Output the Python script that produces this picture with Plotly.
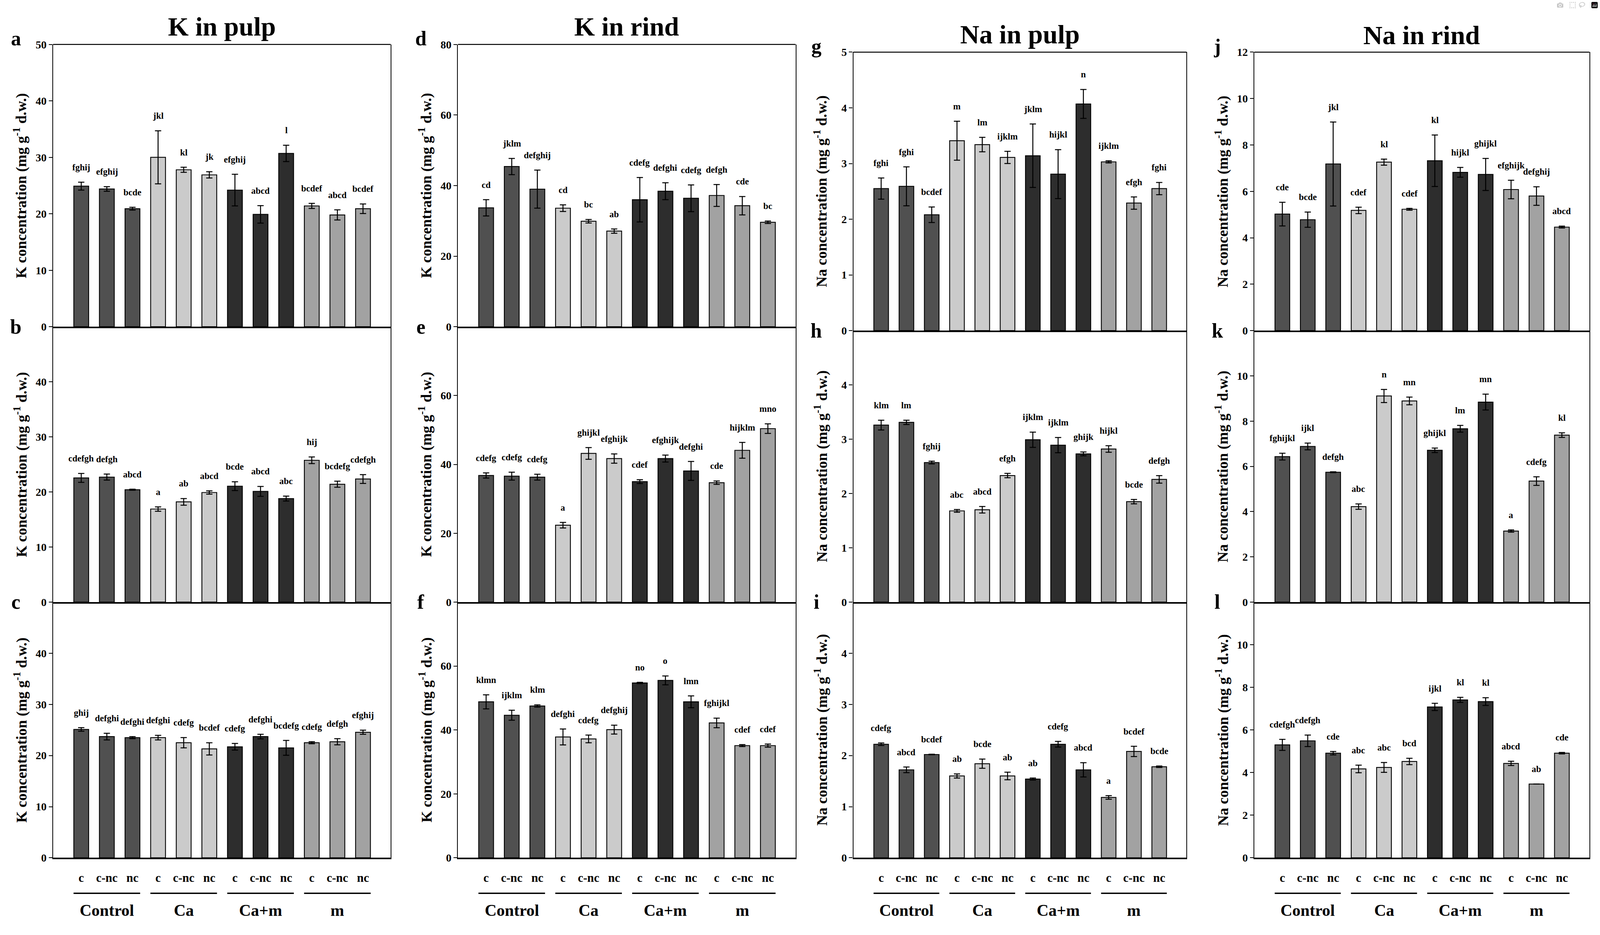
import plotly.graph_objects as go

REF_W, REF_H = 5398, 2393          # reference picture size (layout geometry measured in it)
FIG_W, FIG_H = 4096, 2393          # page size; resized to the real viewport by the script below
FONT = "Liberation Serif"

# ---------------- data ----------------
groups = ["Control", "Ca", "Ca+m", "m"]
subgroups = ["c", "c-nc", "nc"] * 4
positions = list(range(12))

col_titles = ["K in pulp", "K in rind", "Na in pulp", "Na in rind"]
y_titles = ["K concentration (mg g<sup>-1</sup> d.w.)",
            "K concentration (mg g<sup>-1</sup> d.w.)",
            "Na concentration (mg g<sup>-1</sup> d.w.)",
            "Na concentration (mg g<sup>-1</sup> d.w.)"]
y_max = [50, 80, 5, 12]
y_step = [10, 20, 1, 2]
panel_letters = ["a", "b", "c", "d", "e", "f", "g", "h", "i", "j", "k", "l"]

k_pulp_a = [24.9, 24.4, 20.9, 30.0, 27.8, 26.9, 24.2, 19.9, 30.7, 21.4, 19.8, 20.9]
k_pulp_a_err = [0.7, 0.4, 0.25, 4.7, 0.45, 0.55, 2.8, 1.55, 1.45, 0.45, 0.9, 0.85]
k_pulp_a_sig = ["fghij", "efghij", "bcde", "jkl", "kl", "jk", "efghij", "abcd", "l", "bcdef", "abcd", "bcdef"]

k_pulp_b = [22.55, 22.7, 20.4, 16.9, 18.2, 19.9, 21.05, 20.1, 18.8, 25.75, 21.4, 22.35]
k_pulp_b_err = [0.8, 0.55, 0.1, 0.4, 0.6, 0.3, 0.8, 0.9, 0.45, 0.6, 0.55, 0.8]
k_pulp_b_sig = ["cdefgh", "defgh", "abcd", "a", "ab", "abcd", "bcde", "abcd", "abc", "hij", "bcdefg", "cdefgh"]

k_pulp_c = [25.1, 23.7, 23.5, 23.5, 22.5, 21.3, 21.7, 23.7, 21.5, 22.5, 22.7, 24.55]
k_pulp_c_err = [0.35, 0.65, 0.2, 0.45, 1.0, 1.2, 0.65, 0.45, 1.45, 0.2, 0.6, 0.4]
k_pulp_c_sig = ["ghij", "defghi", "defghi", "defghi", "cdefg", "bcdef", "cdefg", "defghi", "bcdefg", "cdefg", "defgh", "efghij"]

k_rind_d = [33.7, 45.4, 39.0, 33.6, 29.9, 27.1, 36.0, 38.4, 36.4, 37.2, 34.3, 29.6]
k_rind_d_err = [2.3, 2.3, 5.4, 0.95, 0.5, 0.6, 6.3, 2.4, 3.8, 3.1, 2.6, 0.35]
k_rind_d_sig = ["cd", "jklm", "defghij", "cd", "bc", "ab", "cdefg", "defghi", "cdefg", "defgh", "cde", "bc"]

k_rind_e = [36.8, 36.6, 36.3, 22.35, 43.2, 41.7, 35.0, 41.7, 38.1, 34.7, 44.1, 50.4]
k_rind_e_err = [0.75, 1.15, 0.85, 0.8, 1.7, 1.35, 0.55, 1.0, 2.75, 0.5, 2.3, 1.4]
k_rind_e_sig = ["cdefg", "cdefg", "cdefg", "a", "ghijkl", "efghijk", "cdef", "efghijk", "defghi", "cde", "hijklm", "mno"]

k_rind_f = [48.8, 44.6, 47.5, 37.8, 37.2, 40.1, 54.7, 55.5, 48.8, 42.2, 35.1, 35.1]
k_rind_f_err = [2.2, 1.55, 0.35, 2.5, 1.2, 1.4, 0.2, 1.4, 1.85, 1.5, 0.3, 0.5]
k_rind_f_sig = ["klmn", "ijklm", "klm", "defghi", "cdefg", "defghij", "no", "o", "lmn", "fghijkl", "cdef", "cdef"]

na_pulp_g = [2.55, 2.59, 2.08, 3.41, 3.34, 3.11, 3.14, 2.81, 4.07, 3.03, 2.29, 2.55]
na_pulp_g_err = [0.19, 0.35, 0.14, 0.35, 0.13, 0.11, 0.57, 0.44, 0.26, 0.02, 0.11, 0.11]
na_pulp_g_sig = ["fghi", "fghi", "bcdef", "m", "lm", "ijklm", "jklm", "hijkl", "n", "ijklm", "efgh", "fghi"]

na_pulp_h = [3.26, 3.31, 2.57, 1.68, 1.70, 2.33, 2.99, 2.89, 2.73, 2.82, 1.85, 2.26]
na_pulp_h_err = [0.09, 0.04, 0.025, 0.025, 0.06, 0.04, 0.14, 0.14, 0.035, 0.06, 0.04, 0.07]
na_pulp_h_sig = ["klm", "lm", "fghij", "abc", "abcd", "efgh", "ijklm", "ijklm", "ghijk", "hijkl", "bcde", "defgh"]

na_pulp_i = [2.22, 1.72, 2.02, 1.60, 1.84, 1.60, 1.54, 2.22, 1.72, 1.18, 2.08, 1.78]
na_pulp_i_err = [0.025, 0.055, 0.005, 0.04, 0.09, 0.075, 0.02, 0.055, 0.14, 0.035, 0.1, 0.015]
na_pulp_i_sig = ["cdefg", "abcd", "bcdef", "ab", "bcde", "ab", "ab", "cdefg", "abcd", "a", "bcdef", "bcde"]

na_rind_j = [5.02, 4.78, 7.18, 5.18, 7.26, 5.23, 7.32, 6.82, 6.73, 6.08, 5.80, 4.46]
na_rind_j_err = [0.51, 0.33, 1.81, 0.14, 0.13, 0.04, 1.11, 0.21, 0.69, 0.4, 0.4, 0.04]
na_rind_j_sig = ["cde", "bcde", "jkl", "cdef", "kl", "cdef", "kl", "hijkl", "ghijkl", "efghijk", "defghij", "abcd"]

na_rind_k = [6.43, 6.88, 5.74, 4.22, 9.11, 8.89, 6.71, 7.66, 8.84, 3.14, 5.35, 7.38]
na_rind_k_err = [0.15, 0.15, 0.02, 0.12, 0.29, 0.17, 0.1, 0.15, 0.35, 0.05, 0.19, 0.1]
na_rind_k_sig = ["fghijkl", "ijkl", "defgh", "abc", "n", "mn", "ghijkl", "lm", "mn", "a", "cdefg", "kl"]

na_rind_l = [5.30, 5.49, 4.91, 4.17, 4.24, 4.52, 7.08, 7.41, 7.33, 4.43, 3.46, 4.91]
na_rind_l_err = [0.26, 0.27, 0.08, 0.18, 0.23, 0.15, 0.17, 0.12, 0.18, 0.1, 0.0, 0.035]
na_rind_l_sig = ["cdefgh", "cdefgh", "cde", "abc", "abc", "bcd", "ijkl", "kl", "kl", "abcd", "ab", "cde"]

panel_values = [k_pulp_a, k_pulp_b, k_pulp_c, k_rind_d, k_rind_e, k_rind_f,
                na_pulp_g, na_pulp_h, na_pulp_i, na_rind_j, na_rind_k, na_rind_l]
panel_errors = [k_pulp_a_err, k_pulp_b_err, k_pulp_c_err, k_rind_d_err, k_rind_e_err, k_rind_f_err,
                na_pulp_g_err, na_pulp_h_err, na_pulp_i_err, na_rind_j_err, na_rind_k_err, na_rind_l_err]
panel_sigs = [k_pulp_a_sig, k_pulp_b_sig, k_pulp_c_sig, k_rind_d_sig, k_rind_e_sig, k_rind_f_sig,
              na_pulp_g_sig, na_pulp_h_sig, na_pulp_i_sig, na_rind_j_sig, na_rind_k_sig, na_rind_l_sig]

# ---------------- style / geometry (reference pixels) ----------------
group_colors = ["#505050", "#cbcbcb", "#2d2d2d", "#a2a2a2"]
bar_colors = [c for c in group_colors for _ in range(3)]

col_px = [(179, 1318), (1545, 2684), (2879, 4003), (4232, 5362)]
row_top = [100, 100, 120, 120]
row_ab = [832, 832, 842, 842]
row_bc = 1546
row_bottom = 2209
title_y = [54, 54, 74, 76]


def px(v):
    return v / REF_W


def py(v):
    return 1 - v / REF_H


fig = go.Figure()
annotations = []
shapes = []

for p in range(12):
    col, row = p // 3, p % 3
    idx = p + 1
    xa = "x" if idx == 1 else f"x{idx}"
    ya = "y" if idx == 1 else f"y{idx}"
    l, r = col_px[col]
    bounds = [row_top[col], row_ab[col], row_bc, row_bottom]
    top, bot = bounds[row], bounds[row + 1]

    vals, errs, sigs = panel_values[p], panel_errors[p], panel_sigs[p]
    fig.add_trace(go.Bar(
        x=positions, y=vals, width=0.58,
        marker=dict(color=bar_colors, line=dict(color="black", width=2.2)),
        error_y=dict(type="data", array=errs, color="black", thickness=2.5, width=8),
        xaxis=xa, yaxis=ya, showlegend=False, hoverinfo="y"))

    for i, (v, e, s) in enumerate(zip(vals, errs, sigs)):
        annotations.append(dict(
            x=positions[i], y=v + e, xref=xa, yref=ya, text=f"<b>{s}</b>",
            showarrow=False, yanchor="middle", yshift=38,
            font=dict(family=FONT, size=23, color="black")))

    ymax, step = y_max[col], y_step[col]
    nt = int(round(ymax / step))
    tv = [k * step for k in range(nt + 1)]
    if row > 0:
        tv = tv[:-1]
    ttxt = [f"<b>{t:g}</b>" for t in tv]

    xaxis = dict(domain=[px(l), px(r)], range=[-1.1, 12.08], anchor=ya,
                 showline=True, linewidth=4, linecolor="black",
                 showgrid=False, zeroline=False, ticks="",
                 showticklabels=(row == 2), fixedrange=True)
    if row == 2:
        xaxis.update(tickmode="array", tickvals=positions,
                     ticktext=[f"<b>{s}</b>" for s in subgroups],
                     tickfont=dict(family=FONT, size=31, color="black"),
                     ticklabelstandoff=20)
    yaxis = dict(domain=[py(bot), py(top)], range=[0, ymax], anchor=xa,
                 showline=True, linewidth=2.2, linecolor="black", mirror=True,
                 showgrid=False, zeroline=False, ticks="outside", ticklen=9,
                 tickwidth=2.2, tickcolor="black", tickmode="array",
                 tickvals=tv, ticktext=ttxt,
                 tickfont=dict(family=FONT, size=28, color="black"), fixedrange=True)
    fig.update_layout(**{("xaxis" if idx == 1 else f"xaxis{idx}"): xaxis,
                         ("yaxis" if idx == 1 else f"yaxis{idx}"): yaxis})

    # y axis title
    annotations.append(dict(
        x=px(l - 110), y=py((top + bot) / 2), xref="paper", yref="paper",
        text=f"<b>{y_titles[col]}</b>", textangle=-90, showarrow=False,
        xanchor="center", yanchor="middle",
        font=dict(family=FONT, size=38, color="black")))

    # panel letter
    annotations.append(dict(
        x=px(l - 125), y=py(top - (15 if row == 0 else 0)), xref="paper", yref="paper",
        text=f"<b>{panel_letters[p]}</b>", showarrow=False,
        xanchor="center", yanchor="middle",
        font=dict(family=FONT, size=52, color="black")))

    if row == 0:
        shapes.append(dict(type="line", xref="paper", yref="paper",
                           x0=px(l), x1=px(r), y0=py(top), y1=py(top),
                           line=dict(color="black", width=2.5)))
        annotations.append(dict(
            x=px((l + r) / 2), y=py(title_y[col]), xref="paper", yref="paper",
            text=f"<b>{col_titles[col]}</b>", showarrow=False,
            xanchor="center", yanchor="middle",
            font=dict(family=FONT, size=68, color="black")))

    if row == 2:
        for g, name in enumerate(groups):
            first, last = positions[3 * g], positions[3 * g + 2]
            shapes.append(dict(type="line", xref=xa, yref="paper",
                               x0=first - 0.3, x1=last + 0.3,
                               y0=py(2301), y1=py(2301),
                               line=dict(color="black", width=3.5)))
            annotations.append(dict(
                x=(first + last) / 2, y=py(2345), xref=xa, yref="paper",
                text=f"<b>{name}</b>", showarrow=False,
                xanchor="center", yanchor="middle",
                font=dict(family=FONT, size=42, color="black")))

fig.update_layout(width=FIG_W, height=FIG_H, margin=dict(l=0, r=0, t=0, b=0),
                  paper_bgcolor="white", plot_bgcolor="white",
                  annotations=annotations, shapes=shapes, bargap=0.4,
                  font=dict(family=FONT, color="black"))

# make the figure fill the browser viewport exactly
fit_js = """
(function(){
  document.body.style.margin = '0';
  document.documentElement.style.overflow = 'hidden';
  document.body.style.overflow = 'hidden';
  var gd = document.getElementById('{plot_id}');
  var w = window.innerWidth, h = window.innerHeight;
  if (gd && w > 0 && h > 0) {
    Plotly.relayout(gd, {width: w, height: h});
  }
})();
"""

fig.write_html("out.html", post_script=fit_js)
